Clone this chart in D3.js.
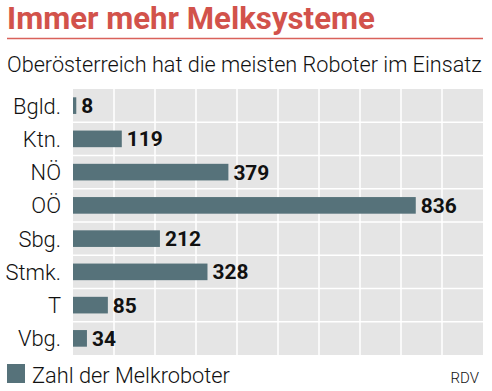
<!DOCTYPE html>
<html><head><meta charset="utf-8">
<script src="https://cdn.jsdelivr.net/npm/d3@7"></script>
<style>
html,body{margin:0;padding:0;background:#fff;}
svg{display:block;}
</style></head>
<body><svg id="c" width="492" height="391"></svg>
<script>
const categories = ["Bgld.","Ktn.","NÖ","OÖ","Sbg.","Stmk.","T","Vbg."];
const values = [8,119,379,836,212,328,85,34];
const gridTicks = [0,100,200,300,400,500,600,700,800,900,1000];
const title = "Immer mehr Melksysteme";
const subtitle = "Oberösterreich hat die meisten Roboter im Einsatz";
const legendLabel = "Zahl der Melkroboter";
const source = "RDV";

const svg = d3.select("#c");
const m = {left:73, right:483, top:89, bottom:355};
const x = d3.scaleLinear().domain([0,1000]).range([m.left, m.right]);
const y = d3.scaleBand().domain(categories).range([m.top, m.bottom]).paddingInner(0.5).paddingOuter(0.25);
const yRow = d3.scaleBand().domain(categories).range([m.top, m.bottom]);
const LIGHT = "Roboto, 'Open Sans', sans-serif";

function fitSize(sel, w){ const l = sel.node().getComputedTextLength(); const fs = parseFloat(sel.attr("font-size")); return fs*w/l; }
function fit(sel, w){ sel.attr("font-size", fitSize(sel,w)); }

// title
const t = svg.append("text").attr("x",7).attr("y",29).attr("font-family","Roboto, sans-serif").attr("font-weight",700)
  .attr("font-size",27).attr("fill","#d2524b").text(title);
fit(t, 368);
svg.append("line").attr("x1",7).attr("x2",483).attr("y1",38.5).attr("y2",38.5).attr("stroke","#d9625b").attr("stroke-width",1.5);
const st = svg.append("text").attr("x",7).attr("y",72).attr("font-family",LIGHT).attr("font-weight",300)
  .attr("font-size",20).attr("fill","#111").text(subtitle);
fit(st, 475);

// plot background
svg.append("rect").attr("x",m.left).attr("y",m.top).attr("width",m.right-m.left).attr("height",m.bottom-m.top).attr("fill","#e5e5e5");
// vertical grid
svg.append("g").selectAll("line").data(gridTicks.slice(1,-1)).join("line")
  .attr("x1",d=>x(d)).attr("x2",d=>x(d)).attr("y1",m.top).attr("y2",m.bottom)
  .attr("stroke","#fff").attr("stroke-width",1.5);
// horizontal grid
svg.append("g").selectAll("line").data(categories.slice(1)).join("line")
  .attr("x1",m.left).attr("x2",m.right).attr("y1",d=>yRow(d)).attr("y2",d=>yRow(d))
  .attr("stroke","#fff").attr("stroke-width",1.5);

// bars
svg.append("g").selectAll("rect").data(values).join("rect")
  .attr("x",x(0)).attr("y",(d,i)=>y(categories[i])).attr("width",d=>x(d)-x(0)).attr("height",y.bandwidth())
  .attr("fill","#56727a");

// value labels
const vl = svg.append("g").selectAll("text").data(values).join("text")
  .attr("x",d=>x(d)+5).attr("y",(d,i)=>y(categories[i])+y.bandwidth()/2).attr("dy","0.36em")
  .attr("font-family","Roboto, sans-serif").attr("font-weight",700).attr("font-size",18).attr("fill","#111")
  .text(d=>d);
const vfs = fitSize(vl.filter(d=>d===836), 36);
vl.attr("font-size", vfs);

// category labels
const cl = svg.append("g").selectAll("text").data(categories).join("text")
  .attr("x",61).attr("y",d=>y(d)+y.bandwidth()/2).attr("dy","0.36em").attr("text-anchor","end")
  .attr("font-family",LIGHT).attr("font-weight",300).attr("font-size",22).attr("fill","#111")
  .text(d=>d);
const cfs = fitSize(cl.filter(d=>d==="Bgld."), 48);
cl.attr("font-size", cfs);

// legend
svg.append("rect").attr("x",7).attr("y",364).attr("width",18).attr("height",19).attr("fill","#56727a");
const lt = svg.append("text").attr("x",32).attr("y",383).attr("font-family",LIGHT).attr("font-weight",300)
  .attr("font-size",20).attr("fill","#111").text(legendLabel);
fit(lt, 198);
svg.append("text").attr("x",479).attr("y",383).attr("text-anchor","end").attr("font-family",LIGHT).attr("font-weight",300)
  .attr("font-size",15).attr("fill","#111").text(source);
</script></body></html>
